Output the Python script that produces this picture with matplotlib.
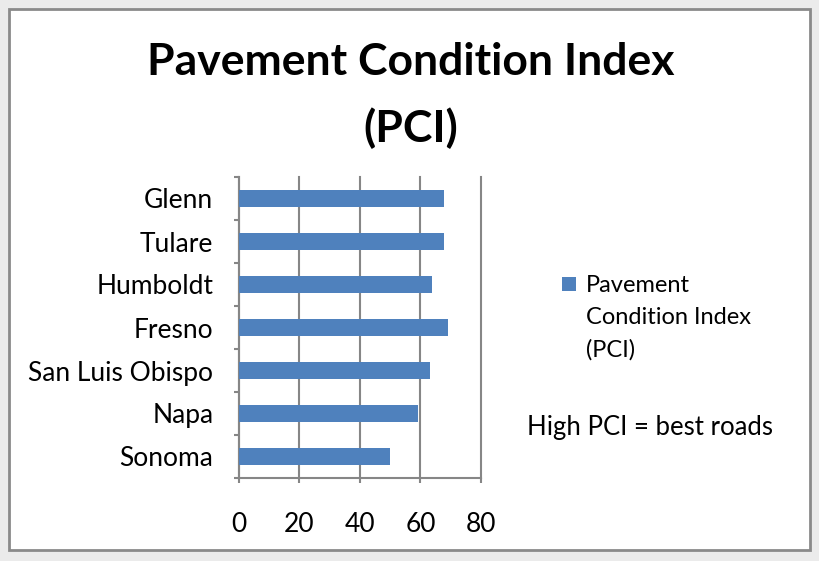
import matplotlib
matplotlib.use('Agg')
import matplotlib.pyplot as plt
from matplotlib.patches import Rectangle
from matplotlib.ticker import FixedLocator

counties = ["Glenn", "Tulare", "Humboldt", "Fresno", "San Luis Obispo", "Napa", "Sonoma"]
pci = [67.8, 67.8, 63.9, 69.2, 63.2, 59.3, 50.0]
x_ticks = [0, 20, 40, 60, 80]
title_lines = ["Pavement Condition Index", "(PCI)"]
series_lines = ["Pavement", "Condition Index", "(PCI)"]
note = "High PCI = best roads"

BAR = '#4F81BD'
GRID = '#868686'

plt.rcParams['font.family'] = ['Lato', 'DejaVu Sans']
W, H = 820, 561
fig = plt.figure(figsize=(W / 100, H / 100), dpi=100, facecolor='#ebebeb')

frame = Rectangle((9 / W, 1 - 550 / H), (810 - 9) / W, (550 - 9) / H,
                  transform=fig.transFigure, facecolor='white',
                  edgecolor='#8a8a8a', lw=2, zorder=-5)
fig.patches.append(frame)

ax = fig.add_axes([239 / W, 1 - 478 / H, (481 - 239) / W, (478 - 177) / H])
ax.set_zorder(2)
ax.set_facecolor('none')
ypos = list(range(len(counties)))
ax.barh(ypos, pci, height=0.4, color=BAR, zorder=3)
ax.set_xlim(0, 80)
ax.set_ylim(len(counties) - 0.5, -0.5)
ax.set_xticks(x_ticks)
ax.set_yticks(ypos)
ax.set_yticklabels(counties)
ax.yaxis.set_minor_locator(FixedLocator([i - 0.5 for i in range(len(counties) + 1)]))
ax.tick_params(axis='y', which='major', length=0, pad=18.5, labelsize=19)
ax.tick_params(axis='y', which='minor', length=3.6, width=1.5, color=GRID, direction='out')
ax.tick_params(axis='x', length=3.6, width=1.5, color=GRID, pad=21, labelsize=19)
ax.grid(axis='x', color=GRID, lw=1.5, zorder=1)
for gl in ax.get_xgridlines():
    gl.set_clip_on(False)
for s in ['top', 'right']:
    ax.spines[s].set_visible(False)
for s in ['left', 'bottom']:
    ax.spines[s].set_color(GRID)
    ax.spines[s].set_linewidth(1.5)

fig.text(411 / W, 1 - 62 / H, title_lines[0], ha='center', va='center',
         fontsize=32, fontweight='bold')
fig.text(411 / W, 1 - 128 / H, title_lines[1], ha='center', va='center',
         fontsize=32, fontweight='bold')

leg = Rectangle((562 / W, 1 - 291 / H), 14 / W, 14 / H, transform=fig.transFigure,
                facecolor=BAR, edgecolor='none')
fig.patches.append(leg)
for i, line in enumerate(series_lines):
    fig.text(586 / W, 1 - (285 + 32.5 * i) / H, line, ha='left', va='center',
             fontsize=17)
fig.text(527 / W, 1 - 428 / H, note, ha='left', va='center', fontsize=18.5)

fig.savefig('out.png', dpi=100, facecolor=fig.get_facecolor())
